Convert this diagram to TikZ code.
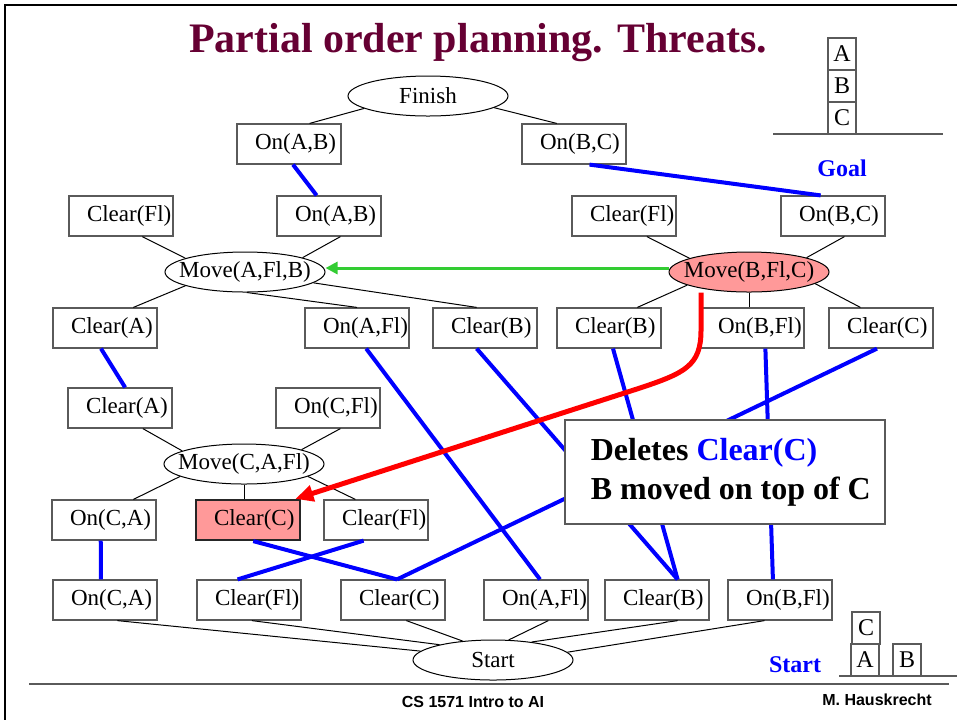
\documentclass[tikz,border=0pt]{standalone}
\usepackage{fontspec}
\setmainfont{Liberation Serif}
\newfontfamily\pie{Liberation Sans}
\usetikzlibrary{shapes.geometric,arrows.meta}

\definecolor{granate}{RGB}{102,0,51}
\definecolor{rosa}{RGB}{255,153,153}
\definecolor{verde}{RGB}{51,204,51}
\definecolor{borde}{RGB}{90,90,90}

\begin{document}
\begin{tikzpicture}[x=0.5pt, y=-0.5pt,
    caja/.style={draw=borde, line width=0.6pt, minimum width=52pt, minimum height=20pt, inner xsep=9pt, inner ysep=0pt, font=\fontsize{11.5}{13}\selectfont},
    elipse/.style={ellipse, draw, line width=0.5pt, minimum width=80pt, minimum height=20pt, inner sep=0pt, font=\fontsize{11.5}{13}\selectfont},
    bloque/.style={draw=borde, line width=0.6pt, minimum width=14pt, minimum height=16pt, inner sep=0pt, font=\fontsize{12}{14}\selectfont},
    enlace/.style={blue, line width=2pt},
    arco/.style={line width=0.5pt}]

    \useasboundingbox (0,0) rectangle (957,720);

    % Marco y titulo
    \draw[line width=1pt] (957,5) -- (5,5) -- (5,720);
    \node[anchor=base, text=granate, font=\fontsize{21}{25}\selectfont\bfseries] (titulo) at (478,52) {Partial order planning. Threats.};

    % Condiciones (cajas)
    \foreach \n/\x/\y/\t in {onabT/289/144/{On(A,B)}, onbcT/574/144/{On(B,C)},
            clflL/121/216/{Clear(Fl)}, onabM/329/216/{On(A,B)}, clflR/624/216/{Clear(Fl)}, onbcM/833/216/{On(B,C)},
            clA1/105/328/{Clear(A)}, onAFl1/357/328/{On(A,Fl)}, clB1/485/328/{Clear(B)}, clB2/609/328/{Clear(B)}, onBFl1/752/328/{On(B,Fl)}, clC1/881/328/{Clear(C)},
            clA2/120/408/{Clear(A)}, onCFl/328/408/{On(C,Fl)},
            onCA1/104/520/{On(C,A)}, clFl2/376/520/{Clear(Fl)},
            onCA2/105/600/{On(C,A)}, clFl3/249/600/{Clear(Fl)}, clC3/393/600/{Clear(C)}, onAFl2/536/600/{On(A,Fl)}, clB3/657/600/{Clear(B)}, onBFl2/780/600/{On(B,Fl)}} {
        \node[caja] (\n) at (\x,\y) {\makebox[34pt][l]{\t}};
    }
    \node[caja, fill=rosa, draw=black!85, line width=1.1pt] (clC2) at (248,520) {\makebox[34pt][l]{Clear(C)}};

    % Acciones (elipses)
    \node[elipse] (fin) at (428,96) {\makebox[0pt]{Finish}};
    \node[elipse] (mvAB) at (245,272) {\makebox[0pt]{Move(A,Fl,B)}};
    \node[elipse, fill=rosa] (mvBC) at (749,272) {\makebox[0pt]{Move(B,Fl,C)}};
    \node[elipse] (mvCA) at (244,464) {\makebox[0pt]{Move(C,A,Fl)}};
    \node[elipse] (inicio) at (493,660) {\makebox[0pt]{Start}};

    % Arcos de precondicion
    \foreach \a/\b in {fin.191/onabT.45, fin.350/onbcT.130, clflL.316/mvAB.167, onabM.299/mvAB.14,
            clflR.318/mvBC.167, onbcM.299/mvBC.14, mvAB.193/clA1.36, mvAB.275/onAFl1.north,
            mvAB.351/clB1.112, mvBC.192/clB2.36, mvBC.350/clC1.135, clA2.318/mvCA.168,
            onCFl.301/mvCA.14, mvCA.191/onCA1.35, mvCA.349/clFl2.135, onCA2.301/inicio.173,
            clFl3.278/inicio.164, clC3.303/inicio.148, onAFl2.301/inicio.52, clB3.315/inicio.25,
            onBFl2.233/inicio.6} {
        \draw[arco] (\a) -- (\b);
    }
    \draw[arco] (mvBC.south) -- (mvBC.south |- onBFl1.north);
    \draw[arco] (mvCA.south) -- (mvCA.south |- clC2.north);

    % Enlaces causales
    \foreach \a/\b in {onabT.281/onabM.121, onbcT.307/onbcM.121, clA1.259/clA2.76, onCA1.261/onCA2.101,
            clC2.284/clC3.79, clFl2.239/clFl3.119, clC3.79/clC1.259, onAFl1.294/onAFl2.79,
            clB1.248/clB3.45, clB2.281/clB3.45, onBFl1.303/onBFl2.109} {
        \draw[enlace] (\a) -- (\b);
    }

    % Nota
    \node[draw=borde, line width=0.6pt, fill=white, minimum width=160pt, minimum height=52pt] (nota) at (725,472) {};
    \node[anchor=west, align=left, inner sep=0pt, font=\fontsize{16}{19.5}\selectfont\bfseries] (notatxt) at ([xshift=13pt]nota.west) {Deletes \textcolor{blue}{Clear(C)}\\B moved on top of C};

    % Amenaza y orden
    \draw[verde, line width=1.5pt, -{Triangle[length=6pt, width=6pt]}] ([yshift=2pt]mvBC.west) -- ([yshift=2pt]mvAB.east);
    \draw[red, line width=2.5pt, -{Triangle[length=9pt, width=8pt]}] ([xshift=-24pt]mvBC.south) -- ++(0,38) .. controls +(0,35) and +(45,-15) .. (640,388) -- (clC2.24);

    % Bloques: meta y estado inicial
    \foreach \n/\x/\y/\t in {bA/842/54/A, bB/842/86/B, bC/842/118/C, sC/866/628/C, sA/865/660/A, sB/907/660/B} {
        \node[bloque] (\n) at (\x,\y) {\t};
    }
    \draw[borde, line width=0.6pt] (773,134) -- (943,134);
    \draw[borde, line width=0.6pt] (839,676) -- (957,676);
    \node[anchor=base, text=blue, font=\fontsize{12}{14}\selectfont\bfseries] (meta) at (842,176) {Goal};
    \node[anchor=base, text=blue, font=\fontsize{12}{14}\selectfont\bfseries] (lblinicio) at (795,672) {Start};

    % Pie
    \draw[borde, line width=0.6pt] (29,684) -- (949,684);
    \node[anchor=base, font=\pie\bfseries\fontsize{8}{10}\selectfont] (curso) at (473,707) {CS 1571 Intro to AI};
    \node[anchor=base, font=\pie\bfseries\fontsize{8}{10}\selectfont] (autor) at (877,705) {M. Hauskrecht};

\end{tikzpicture}
\end{document}
